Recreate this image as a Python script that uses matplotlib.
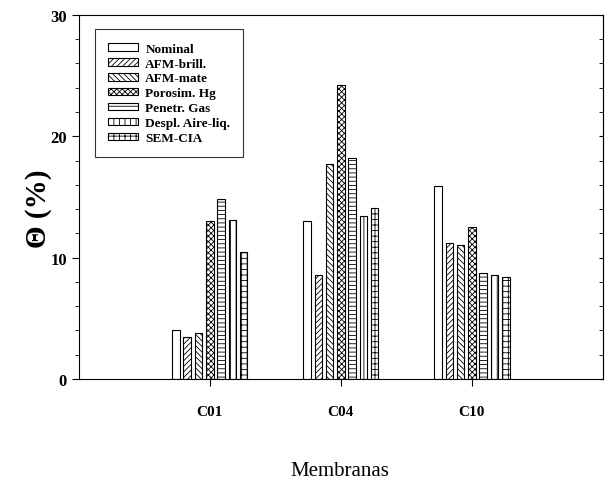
import numpy as np
from matplotlib import pyplot as plt

membranes = ['C01', 'C04', 'C10']
methods = ['Nominal', 'AFM-brill.', 'AFM-mate', 'Porosim. Hg',
           'Penetr. Gas', 'Despl. Aire-liq.', 'SEM-CIA']
theta = {
    'Nominal': [4.0, 13.0, 15.9],
    'AFM-brill.': [3.5, 8.6, 11.2],
    'AFM-mate': [3.8, 17.7, 11.0],
    'Porosim. Hg': [13.0, 24.2, 12.5],
    'Penetr. Gas': [14.8, 18.2, 8.7],
    'Despl. Aire-liq.': [13.1, 13.4, 8.6],
    'SEM-CIA': [10.5, 14.1, 8.4],
}
hatches = ['', '//////', '\\\\\\\\\\\\', 'xxxxxx', '----', '|||', '+++']

plt.rcParams['font.family'] = ['Liberation Serif', 'DejaVu Serif']
plt.rcParams['hatch.linewidth'] = 0.6

fig = plt.figure(figsize=(6.06, 4.81), dpi=100)
ax = fig.add_axes([0.130, 0.210, 0.865, 0.757])

x = np.arange(1, len(membranes) + 1)
pitch = 0.086
width = 0.058
for i, m in enumerate(methods):
    offs = (i - 3) * pitch
    ax.bar(x + offs, theta[m], width, facecolor='white', edgecolor='black',
           linewidth=0.8, hatch=hatches[i], label=m)

ax.set_xlim(0, 4)
ax.set_ylim(0, 30)
ax.set_xticks(x)
ax.set_xticklabels(membranes, fontsize=11, fontweight='bold')
ax.set_yticks([0, 10, 20, 30])
ax.set_yticks(np.arange(0, 31, 2), minor=True)
ax.tick_params(axis='y', which='major', labelsize=12, length=5, direction='out')
ax.tick_params(axis='y', which='minor', length=3, direction='out')
for lbl in ax.get_yticklabels():
    lbl.set_fontweight('bold')
ax.tick_params(axis='x', length=5, pad=14)

sec = ax.secondary_yaxis('right')
sec.set_yticks([0, 10, 20, 30])
sec.set_yticks(np.arange(0, 31, 2), minor=True)
sec.tick_params(which='both', direction='in', labelright=False, length=3)

ax.set_ylabel('Θ (%)', fontsize=21, fontweight='bold')
ax.yaxis.set_label_coords(-0.052, 0.47)
fig.text(0.56, 0.019, 'Membranas', fontsize=15, ha='center', va='center')

leg = ax.legend(loc='upper left', bbox_to_anchor=(0.03, 0.96),
                prop={'weight': 'bold', 'size': 9.5}, frameon=True,
                fancybox=False, edgecolor='black', handlelength=2.3,
                handleheight=0.5, handletextpad=0.55, labelspacing=0.22,
                borderpad=1.0, borderaxespad=0)
leg.get_frame().set_linewidth(0.8)

fig.savefig('out.png', dpi=100)
